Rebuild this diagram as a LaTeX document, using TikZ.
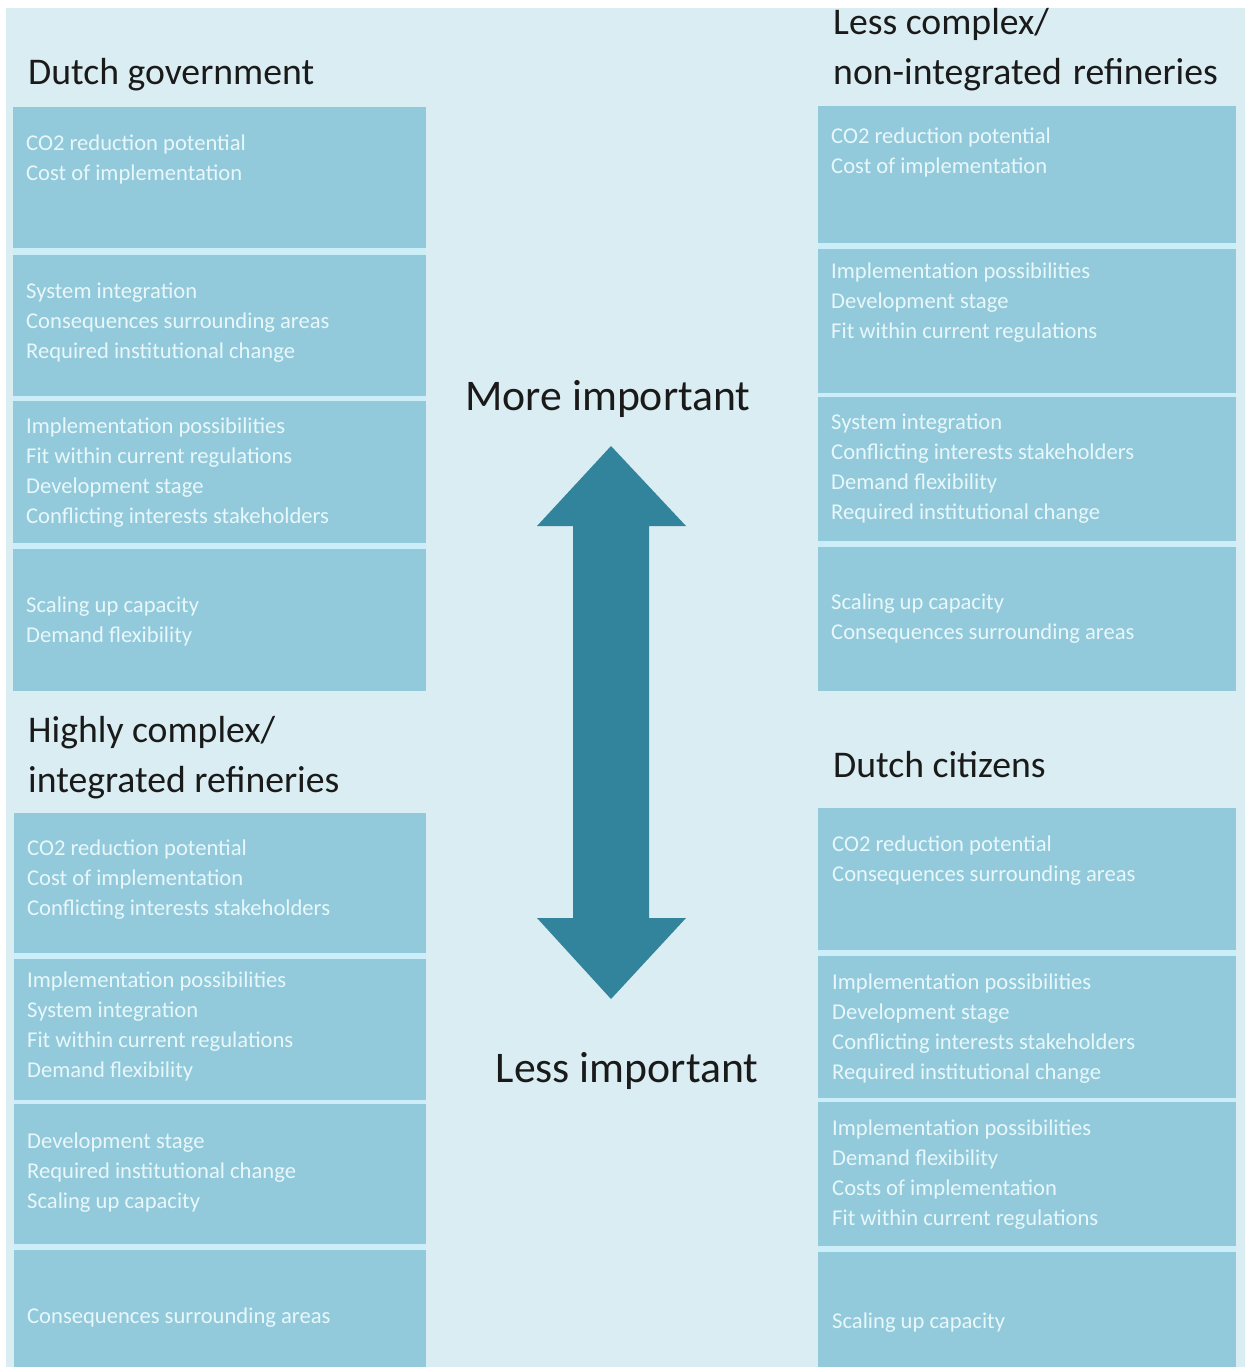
\documentclass[tikz,border=0pt]{standalone}
\usepackage{fontspec}
\setmainfont{Carlito}
\definecolor{bgc}{HTML}{DAEDF3}
\definecolor{boxc}{HTML}{92CADB}
\definecolor{gapc}{HTML}{CCEEF8}
\definecolor{txtc}{HTML}{E8F7FA}
\definecolor{arrc}{HTML}{31849B}
\definecolor{ttl}{HTML}{1A1A1A}
\begin{document}
\begin{tikzpicture}[x=1pt,y=-1pt,
  panel/.style={fill=boxc,draw=none},
  boxtext/.style={anchor=west,inner sep=0pt,align=left,text=txtc,
    font=\fontsize{22.6}{30}\selectfont},
  title/.style={anchor=west,inner sep=0pt,align=left,text=ttl,
    font=\fontsize{37.7}{50}\selectfont},
  biglabel/.style={inner sep=0pt,text=ttl,font=\fontsize{43.7}{50}\selectfont}]
\useasboundingbox (0,0) rectangle (1245,1367);
\fill[white] (0,0) rectangle (1245,1367);
\fill[bgc] (6,8) rectangle (1245,1367);
% gap strips
\fill[gapc] (13,107) rectangle (426,691);
\fill[gapc] (14,813) rectangle (426,1367);
\fill[gapc] (818,106) rectangle (1236,691);
\fill[gapc] (818,808) rectangle (1236,1367);
% left upper
\fill[panel] (13,107) rectangle (426,248);
\fill[panel] (13,255) rectangle (426,396);
\fill[panel] (13,401) rectangle (426,543);
\fill[panel] (13,549) rectangle (426,691);
% left lower
\fill[panel] (14,813) rectangle (426,953);
\fill[panel] (14,959) rectangle (426,1100);
\fill[panel] (14,1104) rectangle (426,1244);
\fill[panel] (14,1250) rectangle (426,1367);
% right upper
\fill[panel] (818,106) rectangle (1236,243);
\fill[panel] (818,249) rectangle (1236,393);
\fill[panel] (818,397) rectangle (1236,541);
\fill[panel] (818,547) rectangle (1236,691);
% right lower
\fill[panel] (818,808) rectangle (1236,950);
\fill[panel] (818,956) rectangle (1236,1098);
\fill[panel] (818,1102) rectangle (1236,1246);
\fill[panel] (818,1252) rectangle (1236,1367);
% titles
\node[title] (tg) at (28,75) {Dutch government};
\node[title] (th) at (28,758) {Highly complex/\\integrated refineries};
\node[title] (tl) at (833,49.5) {Less complex/\\non-integrated\hspace{11pt}refineries};
\node[title] (tc) at (833,765) {Dutch citizens};
% left texts
\node[boxtext] (l1) at (26,159) {CO2 reduction potential\\Cost of implementation};
\node[boxtext] (l2) at (26,323) {System integration\\Consequences surrounding areas\\Required institutional change};
\node[boxtext] (l3) at (26,472.5) {Implementation possibilities\\Fit within current regulations\\Development stage\\Conflicting interests stakeholders};
\node[boxtext] (l4) at (26,621) {Scaling up capacity\\Demand flexibility};
\node[boxtext] (l5) at (27,880) {CO2 reduction potential\\Cost of implementation\\Conflicting interests stakeholders};
\node[boxtext] (l6) at (27,1026.5) {Implementation possibilities\\System integration\\Fit within current regulations\\Demand flexibility};
\node[boxtext] (l7) at (27,1173) {Development stage\\Required institutional change\\Scaling up capacity};
\node[boxtext] (l8) at (27,1318) {Consequences surrounding areas};
% right texts
\node[boxtext] (r1) at (831,152) {CO2 reduction potential\\Cost of implementation};
\node[boxtext] (r2) at (831,302.5) {Implementation possibilities\\Development stage\\Fit within current regulations};
\node[boxtext] (r3) at (831,469) {System integration\\Conflicting interests stakeholders\\Demand flexibility\\Required institutional change};
\node[boxtext] (r4) at (831,619) {Scaling up capacity\\Consequences surrounding areas};
\node[boxtext] (r5) at (832,860.5) {CO2 reduction potential\\Consequences surrounding areas};
\node[boxtext] (r6) at (832,1028.5) {Implementation possibilities\\Development stage\\Conflicting interests stakeholders\\Required institutional change};
\node[boxtext] (r7) at (832,1175) {Implementation possibilities\\Demand flexibility\\Costs of implementation\\Fit within current regulations};
\node[boxtext] (r8) at (832,1323) {Scaling up capacity};
% arrow
\fill[arrc] (611,446) -- (686,526) -- (649,526) -- (649,918) -- (686,918)
  -- (611,999) -- (537,918) -- (573,918) -- (573,526) -- (537,526) -- cycle;
\node[biglabel] (mi) at (608,399) {More important};
\node[biglabel] (li) at (627,1071) {Less important};
\end{tikzpicture}
\end{document}
